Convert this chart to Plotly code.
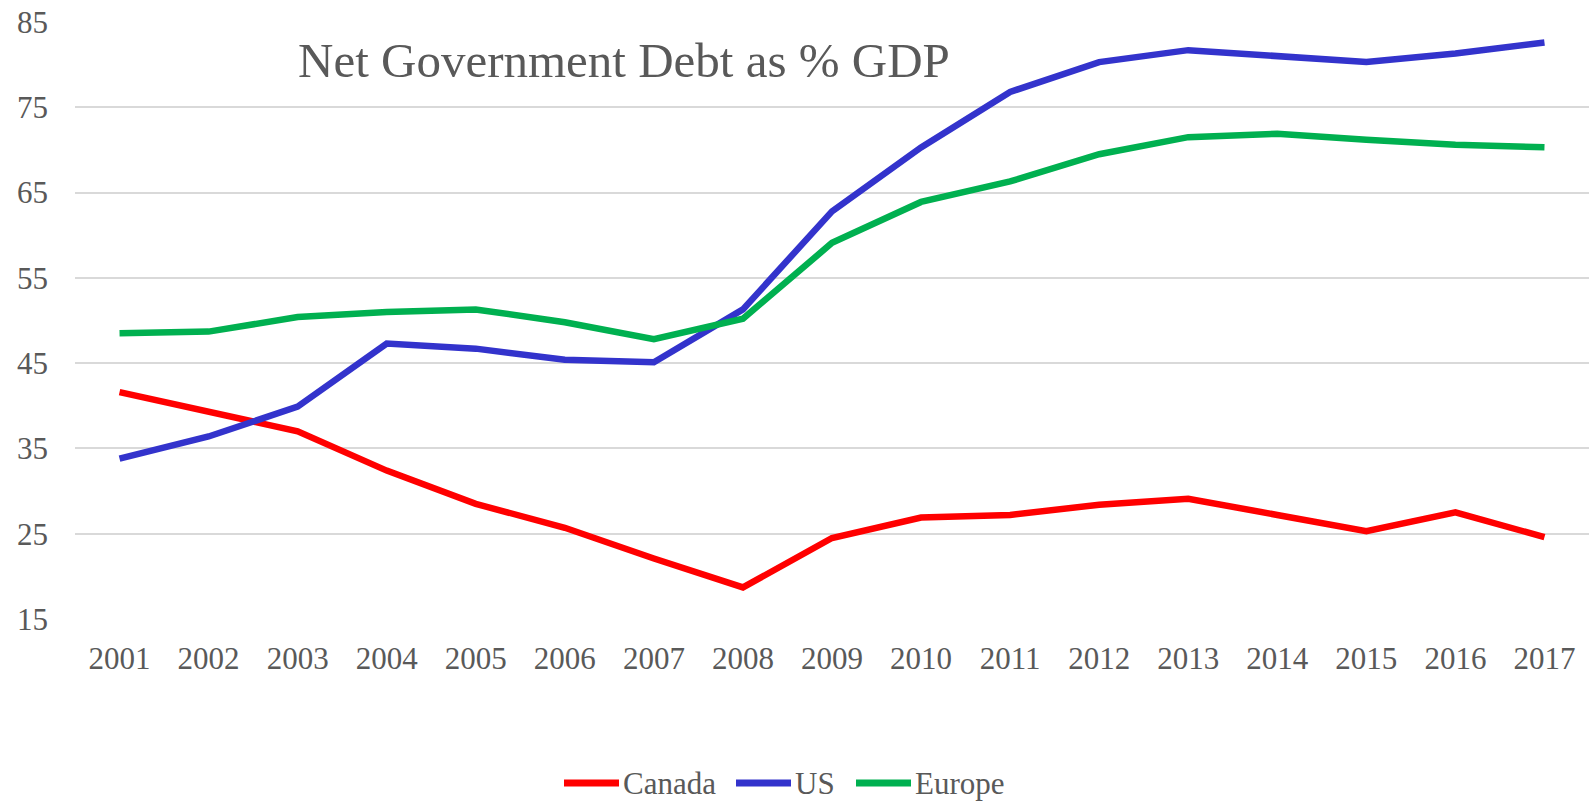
import plotly.graph_objects as go

years = [str(y) for y in range(2001, 2018)]
canada = [41.6, 39.3, 37.0, 32.4, 28.5, 25.7, 22.1, 18.7, 24.5, 26.9, 27.2, 28.4, 29.1, 27.2, 25.3, 27.5, 24.6]
us = [33.8, 36.4, 39.9, 47.3, 46.7, 45.4, 45.1, 51.3, 62.8, 70.3, 76.8, 80.3, 81.7, 81.0, 80.3, 81.3, 82.6]
europe = [48.5, 48.7, 50.4, 51.0, 51.3, 49.8, 47.8, 50.2, 59.1, 63.9, 66.3, 69.5, 71.5, 71.9, 71.2, 70.6, 70.3]

y_ticks = [15, 25, 35, 45, 55, 65, 75, 85]

series = [
    ("Canada", canada, "#FF0000"),
    ("US", us, "#3333CC"),
    ("Europe", europe, "#00B050"),
]

FONT = "Liberation Serif, Times New Roman, serif"
GREY = "#595959"

W, H = 1589, 802
ML, MR, MT, MB = 75, 0, 22, 183
PW, PH = W - ML - MR, H - MT - MB


def px_to_paper(x, y):
    return (x - ML) / PW, (H - MB - y) / PH


fig = go.Figure()
for name, vals, color in series:
    fig.add_trace(go.Scatter(
        x=years, y=vals, name=name, mode="lines",
        line=dict(color=color, width=6.5),
        showlegend=False,
    ))

# Legend drawn below the plot: a short swatch line followed by the label
legend_x = [564, 736, 856]
legend_y = 783
shapes, annotations = [], []
for (name, _, color), x0 in zip(series, legend_x):
    xa, ya = px_to_paper(x0, legend_y)
    xb, _ = px_to_paper(x0 + 55, legend_y)
    shapes.append(dict(
        type="line", xref="paper", yref="paper", x0=xa, x1=xb, y0=ya, y1=ya,
        line=dict(color=color, width=7),
    ))
    xt, _ = px_to_paper(x0 + 57, legend_y)
    annotations.append(dict(
        text=name, xref="paper", yref="paper", x=xt, y=ya,
        xanchor="left", yanchor="middle", showarrow=False,
        font=dict(family=FONT, size=31, color=GREY),
    ))

tx, ty = px_to_paper(624, 61)
annotations.append(dict(
    text="Net Government Debt as % GDP",
    xref="paper", yref="paper", x=tx, y=ty,
    xanchor="center", yanchor="middle", showarrow=False,
    font=dict(family=FONT, size=49, color=GREY),
))

fig.update_layout(
    width=W, height=H,
    margin=dict(l=ML, r=MR, t=MT, b=MB),
    paper_bgcolor="white", plot_bgcolor="white",
    font=dict(family=FONT, color=GREY, size=31),
    showlegend=False,
    shapes=shapes,
    annotations=annotations,
)
fig.update_xaxes(
    type="category", range=[-0.5, 16.5],
    showgrid=False, zeroline=False, showline=False, ticks="",
    tickfont=dict(family=FONT, size=31, color=GREY),
    ticklabelstandoff=18,
)
fig.update_yaxes(
    range=[15, 85], tickvals=y_ticks,
    showgrid=True, gridcolor="#D9D9D9", gridwidth=1.5,
    zeroline=False, showline=False, ticks="",
    tickfont=dict(family=FONT, size=31, color=GREY),
    ticklabelstandoff=26,
)

fig.write_html("out.html")
